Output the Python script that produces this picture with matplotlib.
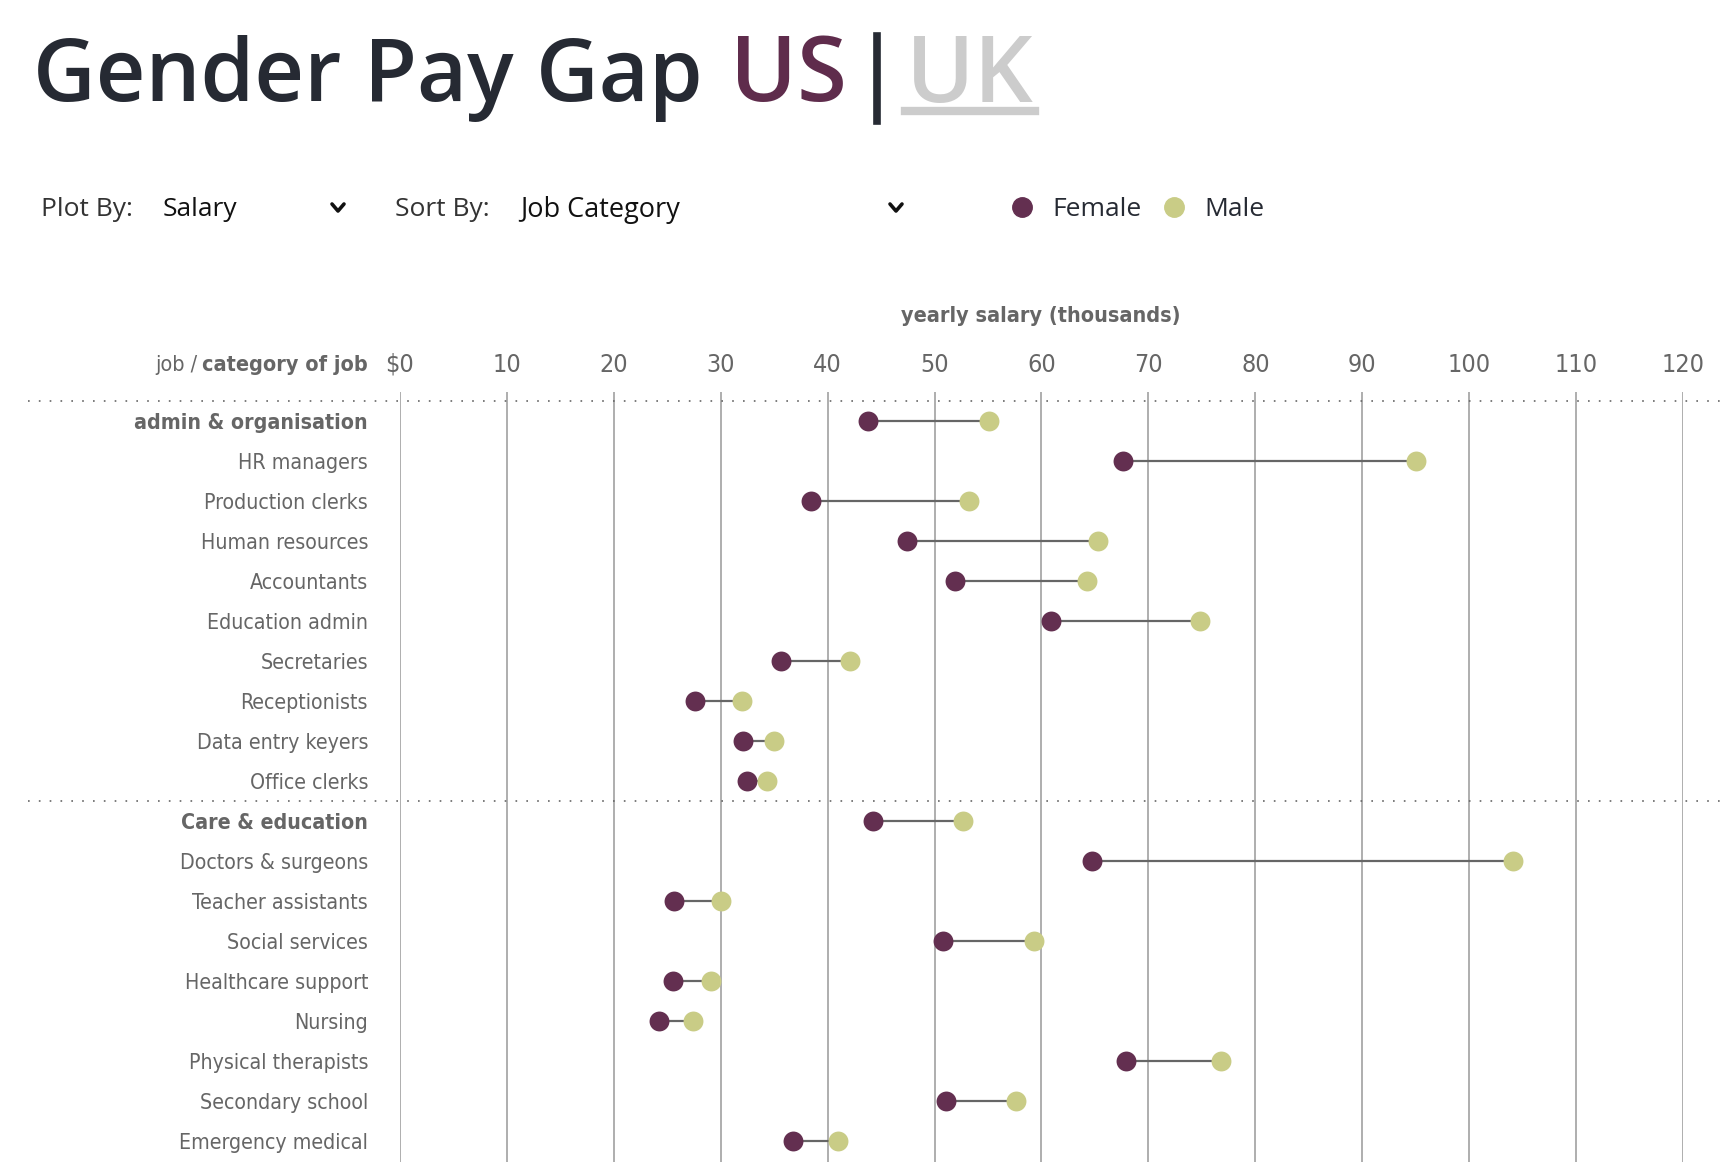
import numpy as np
import matplotlib
matplotlib.use("Agg")
import matplotlib.pyplot as plt
from matplotlib.lines import Line2D

# data (yearly salary, thousands of $)
jobs = ["admin & organisation", "HR managers", "Production clerks", "Human resources",
        "Accountants", "Education admin", "Secretaries", "Receptionists",
        "Data entry keyers", "Office clerks",
        "Care & education", "Doctors & surgeons", "Teacher assistants", "Social services",
        "Healthcare support", "Nursing", "Physical therapists", "Secondary school",
        "Emergency medical"]
is_category = [True] + [False] * 9 + [True] + [False] * 8
female = [43.8, 67.6, 38.4, 47.4, 51.9, 60.9, 35.6, 27.6, 32.1, 32.5,
          44.2, 64.7, 25.6, 50.8, 25.5, 24.2, 67.9, 51.1, 36.8]
male = [55.1, 95.0, 53.2, 65.3, 64.3, 74.8, 42.1, 32.0, 35.0, 34.3,
        52.7, 104.1, 30.0, 59.3, 29.1, 27.4, 76.8, 57.6, 41.0]
xticks = list(range(0, 130, 10))
xtick_labels = ["\\$0"] + [str(t) for t in xticks[1:]]

FEM = "#632f50"
MAL = "#c9cc86"
DARK = "#262a33"
GREY = "#666666"
NARROW = dict(family="DejaVu Sans", stretch="condensed")
ROUND = ["Open Sans", "DejaVu Sans"]

W, H = 1724, 1162
fig = plt.figure(figsize=(W / 100, H / 100), dpi=100)
renderer = fig.canvas.get_renderer()

def fx(px):
    return px / W

def fy(py):
    return 1 - py / H

def fit_text(px, py, s, width, **kw):
    # place text at left edge px and scale font so it spans `width` pixels
    t = fig.text(fx(px), fy(py), s, fontsize=60, va="center", **kw)
    w = t.get_window_extent(renderer).width
    t.set_fontsize(60 * width / w)
    return t

# ---- title
fit_text(33, 78, "Gender Pay Gap", 671, color=DARK, family=ROUND, fontweight="semibold")
fit_text(730, 78, "US", 117, color="#5f2c4c", family=ROUND, fontweight="semibold")
fig.add_artist(Line2D([fx(877), fx(877)], [fy(36), fy(121)], color=DARK, lw=5.5))
fit_text(906, 78, "UK", 128, color="#cccccc", family=ROUND, fontweight="semibold")
fig.add_artist(Line2D([fx(905), fx(1035)], [fy(111), fy(111)], color="#cccccc", lw=6))

# ---- controls row
cy = fy(207)
ty = fy(210)
fig.text(fx(41), ty, "Plot By:", fontsize=19, color="#333333", family=ROUND, va="center")
fig.text(fx(163), ty, "Salary", fontsize=19, color="#111111", family=ROUND, va="center")
fig.text(fx(395), ty, "Sort By:", fontsize=19, color="#333333", family=ROUND, va="center")
fig.text(fx(520), ty, "Job Category", fontsize=19.5, color="#111111", family=ROUND, va="center")
for cx in (338, 896):
    fig.add_artist(Line2D([fx(cx - 6), fx(cx), fx(cx + 6)], [fy(204), fy(211), fy(204)],
                          color="#111111", lw=2.6, solid_capstyle="round"))
fig.add_artist(Line2D([fx(1022)], [cy], marker="o", ms=14, color=FEM, lw=0))
fig.text(fx(1052), ty, "Female", fontsize=19, color=DARK, family=ROUND, va="center")
fig.add_artist(Line2D([fx(1174)], [cy], marker="o", ms=14, color=MAL, lw=0))
fig.text(fx(1204), ty, "Male", fontsize=19, color=DARK, family=ROUND, va="center")

# ---- dumbbell chart
x0, x1, top = 400, 1683, 392
ax = fig.add_axes([fx(x0), 0, (x1 - x0) / W, (H - top) / H])
rows = np.arange(len(jobs))
ax.set_xlim(0, 120)
ax.set_ylim(18.525, -0.725)
for s in ax.spines.values():
    s.set_visible(False)

for t in xticks:
    ax.axvline(t, color="#999999", lw=1.1, zorder=1)

ax.hlines(rows, female, male, color=GREY, lw=1.6, zorder=2)
ax.scatter(female, rows, s=205, color=FEM, zorder=3, lw=0)
ax.scatter(male, rows, s=205, color=MAL, zorder=3, lw=0)

# dotted separators between categories
for i, c in enumerate(is_category):
    if c:
        ax.plot([-0.29, 1.04], [i - 0.5, i - 0.5], transform=ax.get_yaxis_transform(),
                color=GREY, lw=1.2, ls=(0, (1, 5.5)), clip_on=False, zorder=1)

ax.xaxis.tick_top()
ax.set_xticks(xticks)
ax.set_xticklabels(xtick_labels, fontsize=18, color=GREY, **NARROW)
ax.tick_params(axis="x", length=0, pad=11)
ax.set_yticks(rows)
ax.set_yticklabels(jobs, fontsize=15.3, color=GREY, **NARROW)
ax.tick_params(axis="y", length=0, pad=23)
for lab, c in zip(ax.get_yticklabels(), is_category):
    if c:
        lab.set_fontweight("bold")

fig.text(fx(1041), fy(316), "yearly salary (thousands)", fontsize=15.5, fontweight="bold",
         color=GREY, ha="center", va="center", **NARROW)

hb = fig.text(fx(368), fy(365), "category of job", fontsize=15.5, fontweight="bold",
              color=GREY, ha="right", va="center", **NARROW)
bb = hb.get_window_extent(renderer)
fig.text((bb.x0 - 5) / W, fy(365), "job /", fontsize=15.5, color=GREY,
         ha="right", va="center", **NARROW)

fig.savefig("out.png", dpi=100, facecolor="white")
